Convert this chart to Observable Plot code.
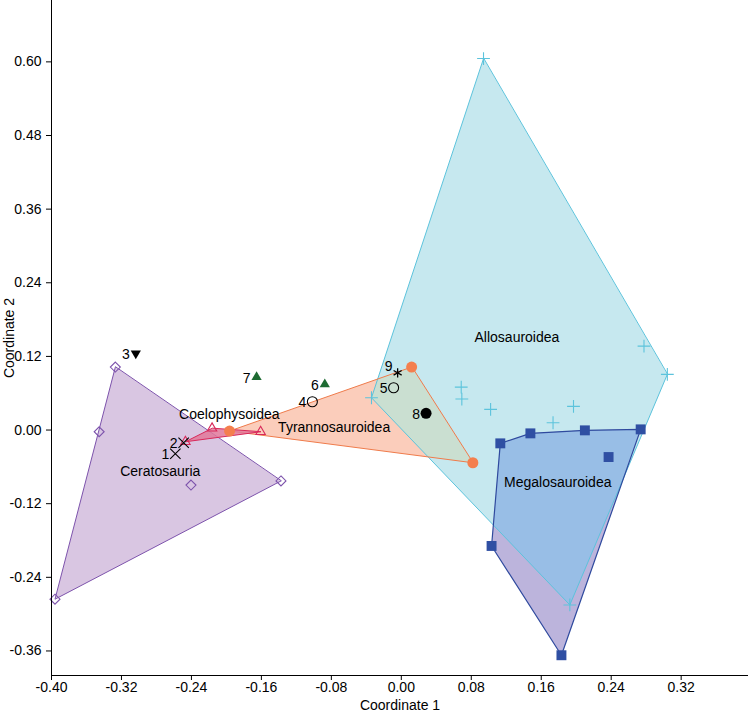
<!DOCTYPE html>
<html><head><meta charset="utf-8">
<script src="https://cdn.jsdelivr.net/npm/d3@7"></script>
<script src="https://cdn.jsdelivr.net/npm/@observablehq/plot@0.6"></script>
<style>body{margin:0;background:#fff}</style>
</head><body><div id="chart"></div>
<script>
// ---- data ----
const ceratosauriaX = [-0.327, -0.3455, -0.396, -0.2405, -0.1376];
const ceratosauriaY = [0.1026, -0.0028, -0.2757, -0.0896, -0.083];

const coelophysoideaX = [-0.2469, -0.2164, -0.1609];
const coelophysoideaY = [-0.0191, 0.0028, -0.0028];

const tyrannosauroideaX = [-0.1964, 0.0118, 0.0818];
const tyrannosauroideaY = [-0.0016, 0.1026, -0.0533];

const allosauroideaX = [0.094, -0.0341, 0.2775, 0.3042, 0.0685, 0.0692, 0.1021, 0.1969, 0.1735, 0.1927];
const allosauroideaY = [0.6054, 0.0526, 0.1368, 0.0907, 0.070, 0.0505, 0.0337, 0.0386, 0.0119, -0.285];

const megalosauroideaX = [0.1132, 0.1476, 0.2099, 0.2737, 0.2370, 0.1032, 0.1831];
const megalosauroideaY = [-0.0217, -0.0054, -0.0005, 0.0011, -0.044, -0.1889, -0.367];

const specimenIds = [1, 2, 3, 4, 5, 6, 7, 8, 9];
const specimenX = [-0.2584, -0.2489, -0.3036, -0.1017, -0.0088, -0.0875, -0.1655, 0.0283, -0.0042];
const specimenY = [-0.0386, -0.0207, 0.1249, 0.0461, 0.0689, 0.0744, 0.0863, 0.0272, 0.0933];

const groupNames = ["Ceratosauria", "Coelophysoidea", "Tyrannosauroidea", "Allosauroidea", "Megalosauroidea"];
const groupLabelX = [-0.2756, -0.1967, -0.0768, 0.1322, 0.1789];
const groupLabelY = [-0.0679, 0.0261, 0.0037, 0.1515, -0.0858];

const xTicks = [-0.40, -0.32, -0.24, -0.16, -0.08, 0.00, 0.08, 0.16, 0.24, 0.32];
const yTicks = [-0.36, -0.24, -0.12, 0.00, 0.12, 0.24, 0.36, 0.48, 0.60];

// ---- build tables ----
const pts = (xs, ys) => xs.map((x, i) => ({x, y: ys[i]}));
const hullRaw = (xs, ys) => d3.polygonHull(xs.map((x, i) => [x, ys[i]]));
const toObj = (poly) => poly.map(([x, y]) => ({x, y}));

// convex polygon clipping (Sutherland–Hodgman), used to shade hull overlaps
const cross = (a, b, p) => (b[0] - a[0]) * (p[1] - a[1]) - (b[1] - a[1]) * (p[0] - a[0]);
function clipPoly(subject, clipper) {
  let A = 0;
  for (let i = 0; i < clipper.length; i++) {
    const p = clipper[i], q = clipper[(i + 1) % clipper.length];
    A += p[0] * q[1] - q[0] * p[1];
  }
  const s = A > 0 ? 1 : -1;
  let out = subject;
  for (let i = 0; i < clipper.length && out.length; i++) {
    const a = clipper[i], b = clipper[(i + 1) % clipper.length];
    const inp = out; out = [];
    for (let k = 0; k < inp.length; k++) {
      const P = inp[k], Q = inp[(k + 1) % inp.length];
      const cp = cross(a, b, P), cq = cross(a, b, Q);
      const pin = s * cp >= 0, qin = s * cq >= 0;
      if (pin) out.push(P);
      if (pin !== qin) {
        const t = cp / (cp - cq);
        out.push([P[0] + t * (Q[0] - P[0]), P[1] + t * (Q[1] - P[1])]);
      }
    }
  }
  return out;
}

const cer = pts(ceratosauriaX, ceratosauriaY);
const coe = pts(coelophysoideaX, coelophysoideaY);
const tyr = pts(tyrannosauroideaX, tyrannosauroideaY);
const allo = pts(allosauroideaX, allosauroideaY);
const meg = pts(megalosauroideaX, megalosauroideaY);
const spec = specimenIds.map((id, i) => ({id, x: specimenX[i], y: specimenY[i]}));
const groups = groupNames.map((name, i) => ({name, x: groupLabelX[i], y: groupLabelY[i]}));

const cerR = hullRaw(ceratosauriaX, ceratosauriaY);
const coeR = hullRaw(coelophysoideaX, coelophysoideaY);
const tyrR = hullRaw(tyrannosauroideaX, tyrannosauroideaY);
const alloR = hullRaw(allosauroideaX, allosauroideaY);
const megR = hullRaw(megalosauroideaX, megalosauroideaY);

const cerH = toObj(cerR), coeH = toObj(coeR), tyrH = toObj(tyrR), alloH = toObj(alloR), megH = toObj(megR);
const tyrAllo = toObj(clipPoly(tyrR, alloR));
const megAllo = toObj(clipPoly(megR, alloR));

const C = {
  cerS: "#7d53ac", cerF: "#d9c6e2",
  coeS: "#d8295a", coeF: "#e0789a",
  tyrS: "#ef7b4b", tyrF: "#fbcdbb", tyrD: "#f47f4e", tyrAllo: "#cadfd1",
  alloS: "#5cc3dc", alloF: "#c6e8ef",
  megS: "#2f4a9e", megF: "#bcb4dc", megAllo: "#98bee6", megD: "#2f4fa3",
  green: "#1d6b32"
};

const poly = (data, opts) => Plot.line(data, {x: "x", y: "y", curve: "linear-closed", strokeWidth: 1, ...opts});
const pick = (ids) => spec.filter(d => ids.includes(d.id));

const chart = Plot.plot({
  width: 748, height: 711,
  marginLeft: 51, marginRight: 0, marginTop: 0, marginBottom: 36,
  style: {fontFamily: "'Liberation Sans', Arial, sans-serif", fontSize: "14px", color: "black", background: "#fff", overflow: "visible"},
  x: {domain: [-0.40, 0.397]},
  y: {domain: [-0.40, 0.70]},
  marks: [
    // fills
    poly(cerH, {fill: C.cerF, stroke: "none"}),
    poly(alloH, {fill: C.alloF, stroke: "none"}),
    poly(tyrH, {fill: C.tyrF, stroke: "none"}),
    poly(megH, {fill: C.megF, stroke: "none"}),
    poly(tyrAllo, {fill: C.tyrAllo, stroke: "none"}),
    poly(megAllo, {fill: C.megAllo, stroke: "none"}),
    // outlines
    poly(cerH, {fill: "none", stroke: C.cerS}),
    poly(alloH, {fill: "none", stroke: C.alloS}),
    poly(tyrH, {fill: "none", stroke: C.tyrS}),
    poly(coeH, {fill: C.coeF, fillOpacity: 0.85, stroke: C.coeS}),
    poly(megH, {fill: "none", stroke: C.megS, strokeWidth: 1.2}),

    Plot.dot(cer, {x: "x", y: "y", symbol: "diamond2", r: 4.5, stroke: C.cerS, strokeWidth: 1.1}),
    Plot.dot(coe, {x: "x", y: "y", symbol: "triangle2", r: 4.5, stroke: C.coeS, strokeWidth: 1.1}),
    Plot.dot(tyr, {x: "x", y: "y", symbol: "circle", r: 5.5, fill: C.tyrD, stroke: "none"}),
    Plot.dot(allo, {x: "x", y: "y", symbol: "plus", r: 4.2, stroke: C.alloS, strokeWidth: 1.1}),
    Plot.dot(meg, {x: "x", y: "y", symbol: "square", r: 5.6, fill: C.megD, stroke: "none"}),

    Plot.dot(pick([1, 2]), {x: "x", y: "y", symbol: "times", r: 4.8, stroke: "black", strokeWidth: 1.1}),
    Plot.dot(pick([3]), {x: "x", y: "y", symbol: "triangle", rotate: 180, r: 3.8, fill: "black"}),
    Plot.dot(pick([4, 5]), {x: "x", y: "y", symbol: "circle", r: 5, stroke: "black", strokeWidth: 1.1, fill: "none"}),
    Plot.dot(pick([6, 7]), {x: "x", y: "y", symbol: "triangle", r: 3.8, fill: C.green}),
    Plot.dot(pick([8]), {x: "x", y: "y", symbol: "circle", r: 5.5, fill: "black"}),
    Plot.dot(pick([9]), {x: "x", y: "y", symbol: "asterisk", r: 4.4, stroke: "black", strokeWidth: 1.3}),

    Plot.text(spec.filter(d => d.id !== 9), {x: "x", y: "y", text: d => String(d.id), textAnchor: "end", dx: -6, dy: 1, fontSize: 14, fill: "black"}),
    Plot.text(pick([9]), {x: "x", y: "y", text: d => String(d.id), textAnchor: "end", dx: -5, dy: -6, fontSize: 14, fill: "black"}),
    Plot.text(groups, {x: "x", y: "y", text: "name", fontSize: 14, fill: "black"}),

    Plot.ruleX([-0.40], {stroke: "black", strokeWidth: 1}),
    Plot.ruleY([-0.40], {stroke: "black", strokeWidth: 1}),
    Plot.axisX({ticks: xTicks, tickFormat: d => d.toFixed(2), tickSize: 5, tickPadding: 2, fontSize: 14, label: "Coordinate 1", labelAnchor: "center", labelArrow: "none", labelOffset: 34}),
    Plot.axisY({ticks: yTicks, tickFormat: d => d.toFixed(2), tickSize: 5, tickPadding: 5, fontSize: 14, label: "Coordinate 2", labelAnchor: "center", labelArrow: "none", labelOffset: 47})
  ]
});
document.getElementById("chart").appendChild(chart);
</script>
</body></html>
